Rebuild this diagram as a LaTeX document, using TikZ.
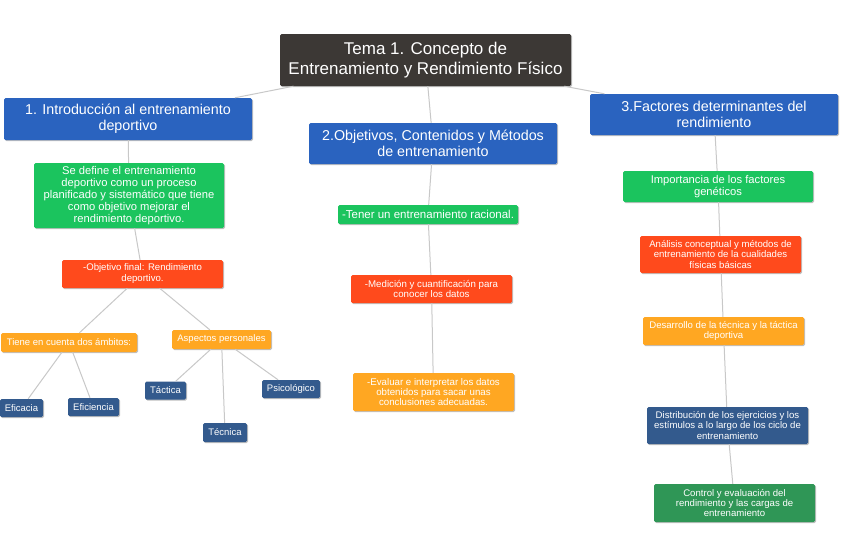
\documentclass[tikz,border=0pt]{standalone}
\usepackage{fontspec}
\setmainfont{Liberation Sans}
\usetikzlibrary{shadows}
\definecolor{rootc}{RGB}{60,56,53}
\definecolor{bluec}{RGB}{42,99,191}
\definecolor{greenc}{RGB}{27,196,94}
\definecolor{redc}{RGB}{255,74,28}
\definecolor{orangec}{RGB}{255,167,34}
\definecolor{navyc}{RGB}{51,90,141}
\definecolor{dgreenc}{RGB}{47,150,86}
\definecolor{linec}{RGB}{200,200,200}
\tikzset{
  box/.style={rectangle, rounded corners=1.5pt, inner sep=0pt, align=center, text=white,
    drop shadow={shadow xshift=1pt, shadow yshift=-1pt, opacity=0.25, fill=black}},
  fsz/.style n args={2}{font=\fontsize{#1}{#2}\selectfont},
  conn/.style={draw=linec, line width=1pt},
}
\begin{document}
\begin{tikzpicture}[x=1pt,y=-1pt]
\useasboundingbox[fill=white] (0,0) rectangle (848,550);
% root and level 1
\node[box, fill=rootc, minimum width=291, minimum height=52, fsz={17}{20}] (root) at (425.5,60) {Tema 1. Concepto de\\Entrenamiento y Rendimiento Físico};
\node[box, fill=bluec, minimum width=248, minimum height=42, fsz={14.3}{16}] (a1) at (128,119) {1. Introducción al entrenamiento\\deportivo};
\node[box, fill=bluec, minimum width=248, minimum height=41, fsz={14.3}{16}] (a2) at (433,143.5) {2.Objetivos, Contenidos y Métodos\\de entrenamiento};
\node[box, fill=bluec, minimum width=248, minimum height=41, fsz={14.3}{16}] (a3) at (714,114.5) {3.Factores determinantes del\\rendimiento};
% left branch
\node[box, fill=greenc, minimum width=190, minimum height=65, fsz={11.2}{11.8}] (l1) at (129,195.5) {Se define el entrenamiento\\deportivo como un proceso\\planificado y sistemático que tiene\\como objetivo mejorar el\\rendimiento deportivo.};
\node[box, fill=redc, minimum width=161, minimum height=28, fsz={9.6}{11}] (l2) at (142.5,274) {-Objetivo final: Rendimiento\\deportivo.};
\node[box, fill=orangec, minimum width=136, minimum height=19, fsz={9.5}{11}] (l3) at (69,342.5) {Tiene en cuenta dos ámbitos:};
\node[box, fill=orangec, minimum width=99, minimum height=19, fsz={9.5}{11}] (l4) at (221.5,339.5) {Aspectos personales};
\node[box, fill=navyc, minimum width=43, minimum height=18, fsz={9.5}{11}] (l5) at (21.5,408) {Eficacia};
\node[box, fill=navyc, minimum width=51, minimum height=18, fsz={9.5}{11}] (l6) at (93.5,407) {Eficiencia};
\node[box, fill=navyc, minimum width=41, minimum height=18, fsz={9.5}{11}] (l7) at (165.5,390.5) {Táctica};
\node[box, fill=navyc, minimum width=44, minimum height=19, fsz={9.5}{11}] (l8) at (225,432.5) {Técnica};
\node[box, fill=navyc, minimum width=58, minimum height=18, fsz={9.5}{11}] (l9) at (291,389) {Psicológico};
% middle branch
\node[box, fill=greenc, minimum width=180, minimum height=19, fsz={11.5}{12}] (m1) at (428,214.5) {-Tener un entrenamiento racional.};
\node[box, fill=redc, minimum width=161, minimum height=28, fsz={9.7}{10.8}] (m2) at (431.5,289) {-Medición y cuantificación para\\conocer los datos};
\node[box, fill=orangec, minimum width=161, minimum height=38, fsz={9.7}{10}] (m3) at (433.5,392) {-Evaluar e interpretar los datos\\obtenidos para sacar unas\\conclusiones adecuadas.};
% right branch
\node[box, fill=greenc, minimum width=190, minimum height=31, fsz={11.2}{12}] (r1) at (718,186.5) {Importancia de los factores\\genéticos};
\node[box, fill=redc, minimum width=161, minimum height=37, fsz={9.6}{10.3}] (r2) at (720.5,254.5) {Análisis conceptual y métodos de\\entrenamiento de la cualidades\\físicas básicas};
\node[box, fill=orangec, minimum width=161, minimum height=28, fsz={9.6}{10.5}] (r3) at (723.5,331) {Desarrollo de la técnica y la táctica\\deportiva};
\node[box, fill=navyc, minimum width=161, minimum height=37, fsz={9.6}{10.3}] (r4) at (727.5,425.5) {Distribución de los ejercicios y los\\estímulos a lo largo de los ciclo de\\entrenamiento};
\node[box, fill=dgreenc, minimum width=161, minimum height=38, fsz={9.6}{10.3}] (r5) at (734.5,503) {Control y evaluación del\\rendimiento y las cargas de\\entrenamiento};
% connectors
\draw[conn] (root) -- (a1);
\draw[conn] (root) -- (a2);
\draw[conn] (root) -- (a3);
\draw[conn] (a1) -- (l1);
\draw[conn] (l1) -- (l2);
\draw[conn] (l2) -- (l3);
\draw[conn] (l2) -- (l4);
\draw[conn] (l3) -- (l5);
\draw[conn] (l3) -- (l6);
\draw[conn] (l4) -- (l7);
\draw[conn] (l4) -- (l8);
\draw[conn] (l4) -- (l9);
\draw[conn] (a2) -- (m1);
\draw[conn] (m1) -- (m2);
\draw[conn] (m2) -- (m3);
\draw[conn] (a3) -- (r1);
\draw[conn] (r1) -- (r2);
\draw[conn] (r2) -- (r3);
\draw[conn] (r3) -- (r4);
\draw[conn] (r4) -- (r5);
\end{tikzpicture}
\end{document}
